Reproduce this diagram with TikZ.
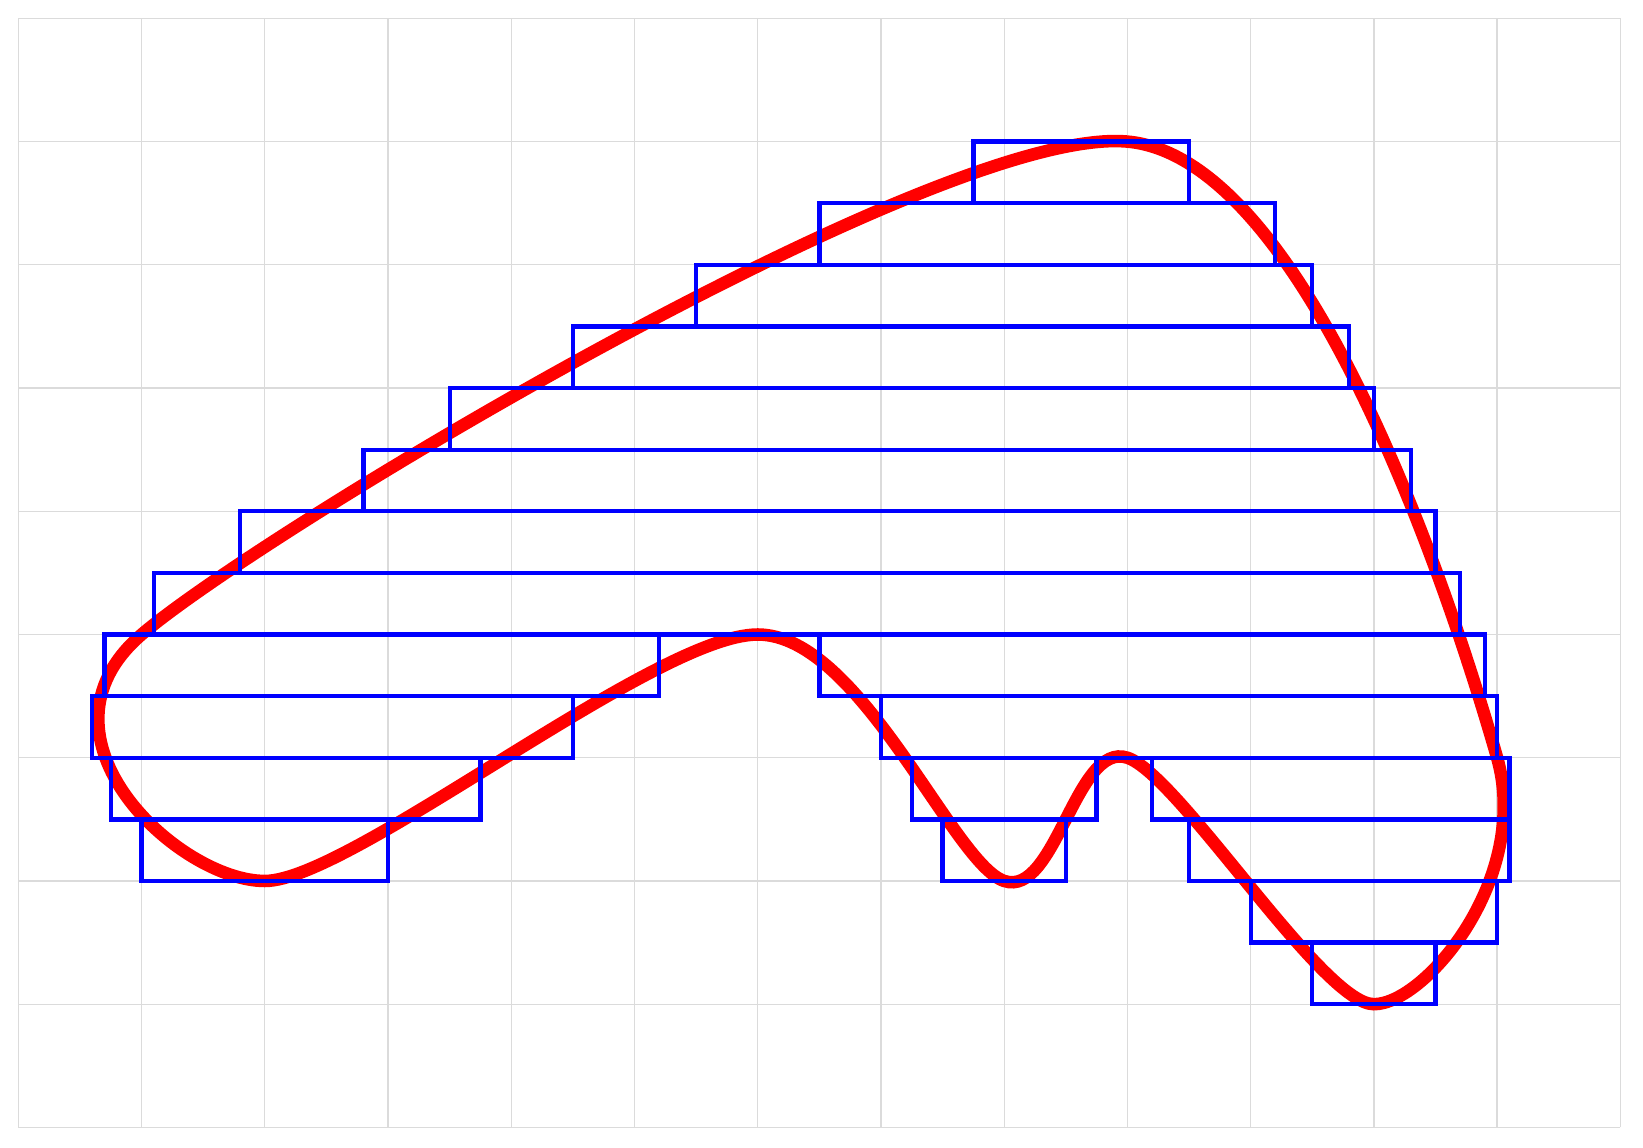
\documentclass[tikz,border=0pt]{standalone}
\begin{document}
\begin{tikzpicture}[x=1cm,y=1cm,
  gridline/.style={draw=gray!28, line width=0.3pt},
  redcurve/.style={draw=red, line width=2.9pt},
  bluestrip/.style={draw=blue, line width=1pt}]
\useasboundingbox (-0.149,-0.16) rectangle (13.184,9.149);
\draw[gridline] (0,0) grid (13,9);
\draw[redcurve] plot[smooth cycle] coordinates {(2,2) (1,4) (9,8) (12,3) (11,1) (9,3) (8,2) (6,4)};
\foreach \y/\a/\b in {
  7.5/7.75/9.5,
  7/6.5/10.2,
  6.5/5.5/10.5,
  6/4.5/10.8,
  5.5/3.5/11.0,
  5/2.8/11.3,
  4.5/1.8/11.5,
  4/1.1/11.7,
  3.5/0.7/5.2, 3.5/6.5/11.9,
  3/0.6/4.5, 3/7.0/12.0,
  2.5/0.75/3.75, 2.5/7.25/8.75, 2.5/9.2/12.1,
  2/1.0/3.0, 2/7.5/8.5, 2/9.5/12.1,
  1.5/10.0/12.0,
  1/10.5/11.5}
  \draw[bluestrip] (\a,\y) rectangle (\b,{\y+0.5});
\end{tikzpicture}
\end{document}
